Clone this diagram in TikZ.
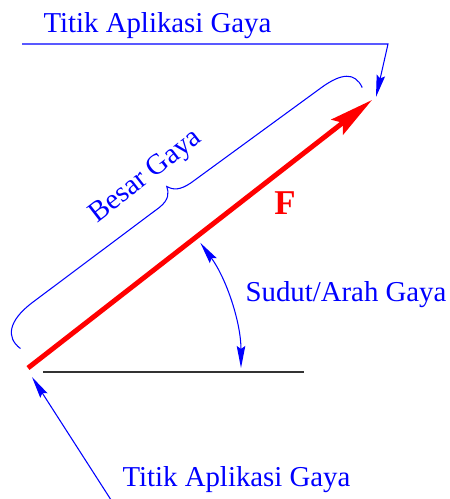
\documentclass[tikz,border=0pt]{standalone}
\usepackage{fontspec}
\setmainfont{Liberation Serif}
\usetikzlibrary{arrows.meta}
\definecolor{labelBlue}{HTML}{0000FF}
\definecolor{forceRed}{HTML}{FF0000}
\definecolor{groundGray}{HTML}{333333}

\begin{document}
\begin{tikzpicture}[
    x=0.02cm, y=-0.02cm,
    tag/.style={
        inner sep=0pt, anchor=base, text=labelBlue,
        font=\fontsize{16.4}{19}\selectfont
    },
    leader/.style={draw=labelBlue, line width=0.6pt},
    pointer/.style={leader, -{Stealth[length=0.44cm, width=0.17cm, inset=0.06cm]}},
    anglearrow/.style={leader,
        {Stealth[length=0.44cm, width=0.17cm, inset=0.06cm]}-{Stealth[length=0.44cm, width=0.17cm, inset=0.06cm]}},
    forcearrow/.style={draw=forceRed, line width=2.8pt,
        -{Stealth[length=0.88cm, width=0.38cm, inset=0.14cm]}},
    ground/.style={draw=groundGray, line width=1.1pt}
]
  \useasboundingbox (0,0) rectangle (449,499);

  % Force vector and horizontal reference
  \coordinate (tail) at (28,368);
  \coordinate (tip) at (372,100);
  \coordinate (groundL) at (43,372);
  \coordinate (groundR) at (304,372);
  \draw[ground] (groundL) -- (groundR);
  \draw[forcearrow] (tail) -- (tip);
  \node[tag, text=forceRed, font=\fontsize{19.8}{22}\selectfont\bfseries] (force) at (285,215) {F};

  % Upper label: point of application
  \node[tag] (topTag) at (157.5,33) {Titik Aplikasi Gaya};
  \coordinate (topL) at (22,44);
  \coordinate (topR) at (388,44);
  \coordinate (topHit) at (376,97);
  \draw[pointer] (topL) -- (topR) -- (topHit);

  % Lower label: point of application
  \node[tag] (botTag) at (236.5,486) {Titik Aplikasi Gaya};
  \coordinate (botStart) at (113,503);
  \coordinate (botHit) at (32,377);
  \draw[pointer] (botStart) -- (botHit);

  % Angle between force and ground
  \node[tag] (angleTag) at (346,301.5) {Sudut/Arah Gaya};
  \draw[anglearrow] ([shift={(-36:213)}]tail) arc[start angle=-36, end angle=0, radius=213];

  % Brace along the force = magnitude
  \begin{scope}[shift={(tail)}, rotate=37.9]
    \draw[leader] (6,-20) .. controls (1,-38) and (14,-49) .. (42,-49)
        -- (202,-46) .. controls (215,-46) and (219,-52) .. (221,-58)
        .. controls (224,-51) and (229,-47) .. (242,-46)
        -- (405,-41) .. controls (428,-40) and (440,-33) .. (436,-16);
  \end{scope}
  \node[tag, anchor=center, rotate=37.9] (sizeTag) at (146,177) {Besar Gaya};

\end{tikzpicture}
\end{document}
